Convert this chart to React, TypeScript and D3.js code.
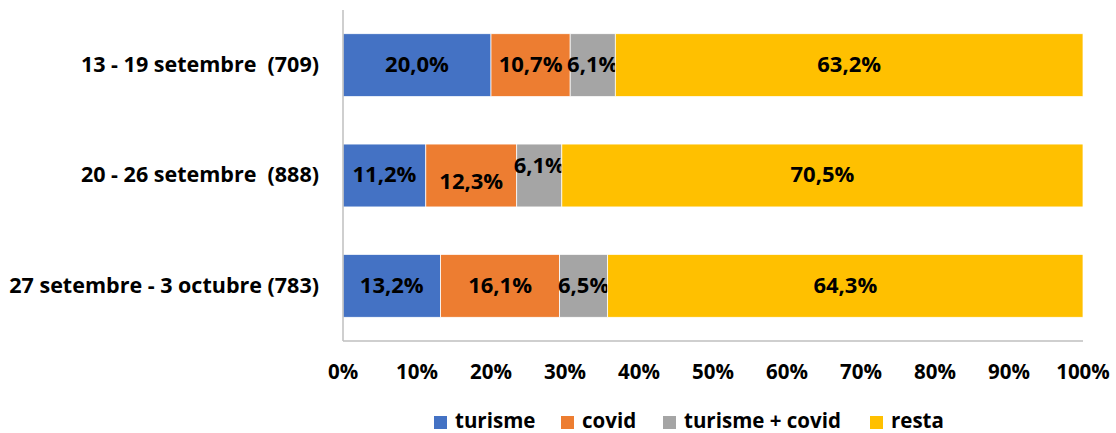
import React from 'react';
import * as d3 from 'd3';

// Weeks (categories) and the share of each topic, in percent
const CATEGORIES = [
  '13 - 19 setembre  (709)',
  '20 - 26 setembre  (888)',
  '27 setembre - 3 octubre (783)',
];
const SERIES = ['turisme', 'covid', 'turisme + covid', 'resta'];
const TURISME = [20.0, 11.2, 13.2];
const COVID = [10.7, 12.3, 16.1];
const TURISME_COVID = [6.1, 6.1, 6.5];
const RESTA = [63.2, 70.5, 64.3];
const TICKS = [0, 0.1, 0.2, 0.3, 0.4, 0.5, 0.6, 0.7, 0.8, 0.9, 1];

const COLORS = ['#4472C4', '#ED7D31', '#A5A5A5', '#FFC000'];

// Manual label nudges (Excel labels dragged by hand), [row][series] in px
const LABEL_NUDGE_Y = [
  [0, 0, 0, 0],
  [0, 7, -9, 0],
  [0, 0, 0, 0],
];

const W = 1116;
const H = 433;
const margin = { top: 10, right: 33, bottom: 92, left: 343 };
const FONT = '"Open Sans", "Noto Sans", sans-serif';

const App: React.FC = () => {
  const innerW = W - margin.left - margin.right;
  const innerH = H - margin.top - margin.bottom;

  const rows = CATEGORIES.map((c, i) => ({
    cat: c,
    [SERIES[0]]: TURISME[i],
    [SERIES[1]]: COVID[i],
    [SERIES[2]]: TURISME_COVID[i],
    [SERIES[3]]: RESTA[i],
  }));

  const stacked = d3.stack<any>().keys(SERIES).offset(d3.stackOffsetExpand)(rows);

  const x = d3.scaleLinear().domain([0, 1]).range([0, innerW]);
  const y = d3.scaleBand().domain(CATEGORIES).range([0, innerH]).paddingInner(0.43).paddingOuter(0.215);

  const fmt = (v: number) => v.toFixed(1).replace('.', ',') + '%';

  // legend swatch positions
  const legendX = [434, 561, 663, 870];

  return (
    <svg width={W} height={H} style={{ display: 'block', position: 'absolute', left: 0, top: 0 }} fontFamily={FONT}>
      <g transform={`translate(${margin.left},${margin.top})`}>
        {stacked.map((layer, si) => (
          <g key={layer.key}>
            {layer.map((d, ri) => {
              const x0 = x(d[0]);
              const x1 = x(d[1]);
              const yy = y(CATEGORIES[ri])!;
              const raw = [TURISME, COVID, TURISME_COVID, RESTA][si][ri];
              return (
                <g key={ri}>
                  <rect x={x0} y={yy} width={x1 - x0} height={y.bandwidth()}
                    fill={COLORS[si]} stroke="#fff" strokeWidth={0.75} />
                  <text x={(x0 + x1) / 2} y={yy + y.bandwidth() / 2 + 1 + LABEL_NUDGE_Y[ri][si]}
                    textAnchor="middle" dominantBaseline="middle"
                    fontSize={22} fontWeight="bold" fill="#000">{fmt(raw)}</text>
                </g>
              );
            })}
          </g>
        ))}

        {/* axes lines */}
        <line x1={0} x2={0} y1={0} y2={innerH} stroke="#bfbfbf" strokeWidth={1.5} />
        <line x1={0} x2={innerW} y1={innerH} y2={innerH} stroke="#bfbfbf" strokeWidth={1.5} />

        {/* category labels */}
        {CATEGORIES.map(c => (
          <text key={c} x={-24} y={y(c)! + y.bandwidth() / 2 + 1} textAnchor="end"
            dominantBaseline="middle" fontSize={21.5} fontWeight="bold" fill="#000"
            style={{ whiteSpace: 'pre' }}>{c}</text>
        ))}

        {/* x tick labels */}
        {TICKS.map(t => (
          <text key={t} x={x(t)} y={innerH + 33} textAnchor="middle" dominantBaseline="middle"
            fontSize={20.5} fontWeight="bold" fill="#000">{d3.format('.0%')(t)}</text>
        ))}
      </g>

      {/* legend */}
      {SERIES.map((s, i) => (
        <g key={s} transform={`translate(${legendX[i]},416)`}>
          <rect width={13} height={13} fill={COLORS[i]} />
          <text x={21} y={7} dominantBaseline="middle" fontSize={20.5} fontWeight="bold" fill="#000">{s}</text>
        </g>
      ))}
    </svg>
  );
};

export default App;
